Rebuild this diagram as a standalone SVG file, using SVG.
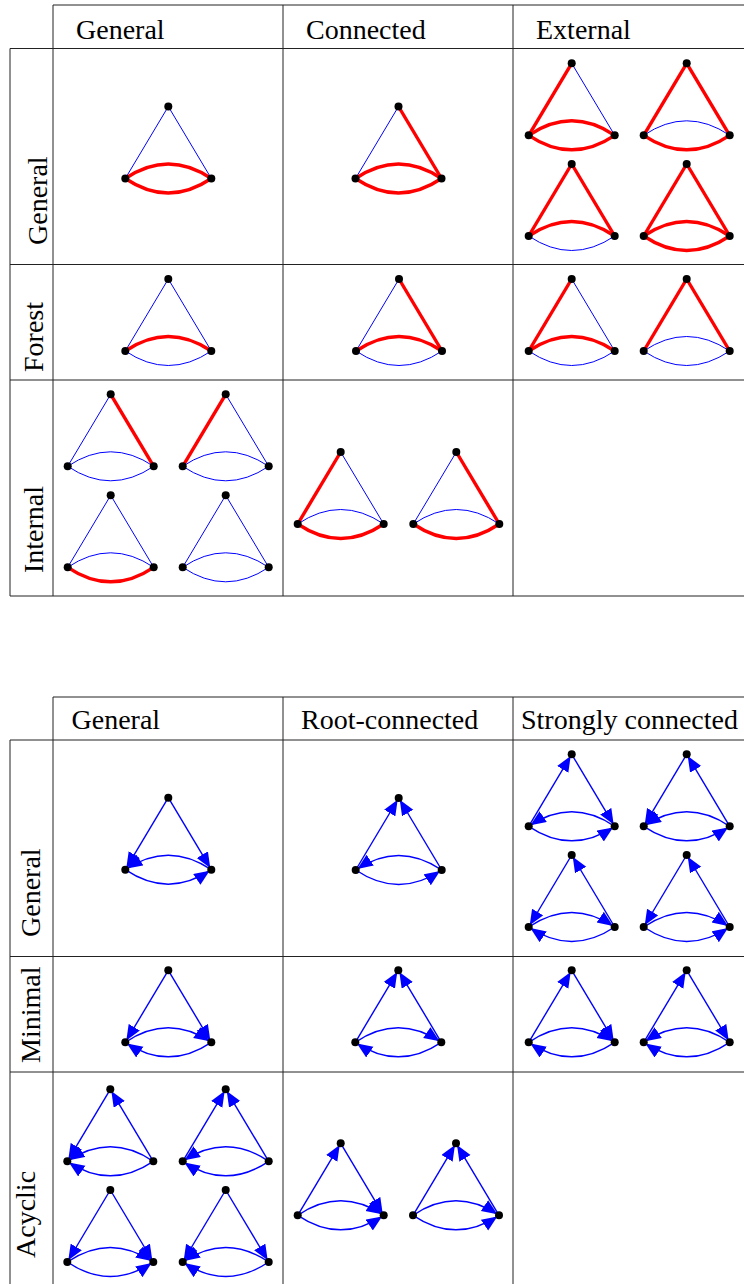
<svg xmlns="http://www.w3.org/2000/svg" xmlns:xlink="http://www.w3.org/1999/xlink" width="744" height="1284" viewBox="0 0 744 1284">
<style>
.grid line{stroke:#222;stroke-width:1}
text{font-family:"Liberation Serif","DejaVu Serif",serif;font-size:28px;fill:#000}
.b{fill:none;stroke:#0000ff;stroke-width:1}
.r{fill:none;stroke:#ff0000;stroke-width:3.4}
.d{fill:none;stroke:#0000ff;stroke-width:1.4;marker-end:url(#ah)}
.n{fill:#000}
</style>
<defs>
<marker id="ah" markerUnits="userSpaceOnUse" markerWidth="20" markerHeight="14" refX="17.5" refY="6.5" orient="auto"><path d="M0,0 L15.5,6.5 L0,13 Z" fill="#0000ff"/></marker>
<path id="LT" d="M-43,72 L0,0"/>
<path id="TL" d="M0,0 L-43,72"/>
<path id="RT" d="M43,72 L0,0"/>
<path id="TR" d="M0,0 L43,72"/>
<path id="uLR" d="M-43,72 Q0,43 43,72"/>
<path id="uRL" d="M43,72 Q0,43 -43,72"/>
<path id="dLR" d="M-43,72 Q0,101 43,72"/>
<path id="dRL" d="M43,72 Q0,101 -43,72"/>
<g id="nd"><circle cx="0" cy="0" r="4"/><circle cx="-43" cy="72" r="4"/><circle cx="43" cy="72" r="4"/></g>
</defs>

<g id="table-undirected" class="grid">
<line x1="53" y1="5" x2="744" y2="5"/>
<line x1="10" y1="48.5" x2="744" y2="48.5"/>
<line x1="10" y1="264.5" x2="744" y2="264.5"/>
<line x1="10" y1="380" x2="744" y2="380"/>
<line x1="10" y1="596" x2="744" y2="596"/>
<line x1="10" y1="48.5" x2="10" y2="596"/>
<line x1="53" y1="5" x2="53" y2="596"/>
<line x1="283" y1="5" x2="283" y2="596"/>
<line x1="513" y1="5" x2="513" y2="596"/>
</g>
<g id="table-directed" class="grid">
<line x1="53" y1="697" x2="744" y2="697"/>
<line x1="10" y1="740" x2="744" y2="740"/>
<line x1="10" y1="956.5" x2="744" y2="956.5"/>
<line x1="10" y1="1072" x2="744" y2="1072"/>
<line x1="10" y1="740" x2="10" y2="1284"/>
<line x1="53" y1="697" x2="53" y2="1284"/>
<line x1="283" y1="697" x2="283" y2="1284"/>
<line x1="513" y1="697" x2="513" y2="1284"/>
</g>

<g id="labels">
<text x="76" y="39">General</text>
<text x="306" y="39">Connected</text>
<text x="536" y="39">External</text>
<text transform="translate(46.5,245) rotate(-90)">General</text>
<text transform="translate(43.3,372) rotate(-90)">Forest</text>
<text transform="translate(43.3,573) rotate(-90)">Internal</text>
<text x="71.5" y="729">General</text>
<text x="301" y="729">Root-connected</text>
<text x="521" y="729">Strongly connected</text>
<text transform="translate(40,937) rotate(-90)">General</text>
<text transform="translate(40,1063) rotate(-90)">Minimal</text>
<text transform="translate(35,1258) rotate(-90)">Acyclic</text>
</g>

<g id="connectors">
<!-- top table -->
<g transform="translate(168.3,106.5)"><use href="#LT" class="b"/><use href="#TR" class="b"/><use href="#uLR" class="r"/><use href="#dLR" class="r"/></g>
<g transform="translate(398.5,106.5)"><use href="#LT" class="b"/><use href="#TR" class="r"/><use href="#uLR" class="r"/><use href="#dLR" class="r"/></g>
<g transform="translate(571.7,63.3)"><use href="#TR" class="b"/><use href="#LT" class="r"/><use href="#uLR" class="r"/><use href="#dLR" class="r"/></g>
<g transform="translate(686.7,63.3)"><use href="#uLR" class="b"/><use href="#LT" class="r"/><use href="#TR" class="r"/><use href="#dLR" class="r"/></g>
<g transform="translate(571.7,164)"><use href="#dLR" class="b"/><use href="#LT" class="r"/><use href="#TR" class="r"/><use href="#uLR" class="r"/></g>
<g transform="translate(686.7,164)"><use href="#LT" class="r"/><use href="#TR" class="r"/><use href="#uLR" class="r"/><use href="#dLR" class="r"/></g>
<g transform="translate(168.3,279)"><use href="#LT" class="b"/><use href="#TR" class="b"/><use href="#dLR" class="b"/><use href="#uLR" class="r"/></g>
<g transform="translate(399,279)"><use href="#LT" class="b"/><use href="#dLR" class="b"/><use href="#TR" class="r"/><use href="#uLR" class="r"/></g>
<g transform="translate(571.7,279)"><use href="#TR" class="b"/><use href="#dLR" class="b"/><use href="#LT" class="r"/><use href="#uLR" class="r"/></g>
<g transform="translate(686.7,279)"><use href="#uLR" class="b"/><use href="#dLR" class="b"/><use href="#LT" class="r"/><use href="#TR" class="r"/></g>
<g transform="translate(110.7,394.3)"><use href="#LT" class="b"/><use href="#uLR" class="b"/><use href="#dLR" class="b"/><use href="#TR" class="r"/></g>
<g transform="translate(225.7,394.3)"><use href="#TR" class="b"/><use href="#uLR" class="b"/><use href="#dLR" class="b"/><use href="#LT" class="r"/></g>
<g transform="translate(110.7,495.3)"><use href="#LT" class="b"/><use href="#TR" class="b"/><use href="#uLR" class="b"/><use href="#dLR" class="r"/></g>
<g transform="translate(225.7,495.3)"><use href="#LT" class="b"/><use href="#TR" class="b"/><use href="#uLR" class="b"/><use href="#dLR" class="b"/></g>
<g transform="translate(340.7,452)"><use href="#TR" class="b"/><use href="#uLR" class="b"/><use href="#LT" class="r"/><use href="#dLR" class="r"/></g>
<g transform="translate(456.3,452)"><use href="#LT" class="b"/><use href="#uLR" class="b"/><use href="#TR" class="r"/><use href="#dLR" class="r"/></g>
<!-- bottom table -->
<g transform="translate(168.3,797.7)"><use href="#TL" class="d"/><use href="#TR" class="d"/><use href="#uRL" class="d"/><use href="#dLR" class="d"/></g>
<g transform="translate(398.7,798)"><use href="#LT" class="d"/><use href="#RT" class="d"/><use href="#uRL" class="d"/><use href="#dLR" class="d"/></g>
<g transform="translate(571.7,754.3)"><use href="#LT" class="d"/><use href="#TR" class="d"/><use href="#uRL" class="d"/><use href="#dLR" class="d"/></g>
<g transform="translate(686.7,754.3)"><use href="#TL" class="d"/><use href="#RT" class="d"/><use href="#uRL" class="d"/><use href="#dLR" class="d"/></g>
<g transform="translate(571.7,855)"><use href="#TL" class="d"/><use href="#RT" class="d"/><use href="#uLR" class="d"/><use href="#dRL" class="d"/></g>
<g transform="translate(686.7,855)"><use href="#TL" class="d"/><use href="#RT" class="d"/><use href="#uLR" class="d"/><use href="#dLR" class="d"/></g>
<g transform="translate(168.3,970.3)"><use href="#TL" class="d"/><use href="#TR" class="d"/><use href="#uLR" class="d"/><use href="#dRL" class="d"/></g>
<g transform="translate(398.3,970.3)"><use href="#LT" class="d"/><use href="#RT" class="d"/><use href="#uLR" class="d"/><use href="#dRL" class="d"/></g>
<g transform="translate(571.7,970.3)"><use href="#LT" class="d"/><use href="#TR" class="d"/><use href="#uLR" class="d"/><use href="#dRL" class="d"/></g>
<g transform="translate(686.7,970.3)"><use href="#LT" class="d"/><use href="#TR" class="d"/><use href="#uRL" class="d"/><use href="#dRL" class="d"/></g>
<g transform="translate(110.3,1089.3)"><use href="#TL" class="d"/><use href="#RT" class="d"/><use href="#uRL" class="d"/><use href="#dRL" class="d"/></g>
<g transform="translate(225.7,1089.3)"><use href="#LT" class="d"/><use href="#RT" class="d"/><use href="#uRL" class="d"/><use href="#dRL" class="d"/></g>
<g transform="translate(110.3,1190)"><use href="#TL" class="d"/><use href="#TR" class="d"/><use href="#uLR" class="d"/><use href="#dLR" class="d"/></g>
<g transform="translate(225.7,1190)"><use href="#TL" class="d"/><use href="#TR" class="d"/><use href="#uRL" class="d"/><use href="#dRL" class="d"/></g>
<g transform="translate(340.7,1143.3)"><use href="#LT" class="d"/><use href="#TR" class="d"/><use href="#uLR" class="d"/><use href="#dLR" class="d"/></g>
<g transform="translate(456,1143.3)"><use href="#LT" class="d"/><use href="#RT" class="d"/><use href="#uLR" class="d"/><use href="#dLR" class="d"/></g>
</g>

<g id="nodes" class="n">
<use id="g-A1" href="#nd" x="168.3" y="106.5"/>
<use id="g-A2" href="#nd" x="398.5" y="106.5"/>
<use id="g-A3a" href="#nd" x="571.7" y="63.3"/>
<use id="g-A3b" href="#nd" x="686.7" y="63.3"/>
<use id="g-A3c" href="#nd" x="571.7" y="164"/>
<use id="g-A3d" href="#nd" x="686.7" y="164"/>
<use id="g-B1" href="#nd" x="168.3" y="279"/>
<use id="g-B2" href="#nd" x="399" y="279"/>
<use id="g-B3a" href="#nd" x="571.7" y="279"/>
<use id="g-B3b" href="#nd" x="686.7" y="279"/>
<use id="g-C1a" href="#nd" x="110.7" y="394.3"/>
<use id="g-C1b" href="#nd" x="225.7" y="394.3"/>
<use id="g-C1c" href="#nd" x="110.7" y="495.3"/>
<use id="g-C1d" href="#nd" x="225.7" y="495.3"/>
<use id="g-C2a" href="#nd" x="340.7" y="452"/>
<use id="g-C2b" href="#nd" x="456.3" y="452"/>
<use id="g-D1" href="#nd" x="168.3" y="797.7"/>
<use id="g-D2" href="#nd" x="398.7" y="798"/>
<use id="g-D3a" href="#nd" x="571.7" y="754.3"/>
<use id="g-D3b" href="#nd" x="686.7" y="754.3"/>
<use id="g-D3c" href="#nd" x="571.7" y="855"/>
<use id="g-D3d" href="#nd" x="686.7" y="855"/>
<use id="g-E1" href="#nd" x="168.3" y="970.3"/>
<use id="g-E2" href="#nd" x="398.3" y="970.3"/>
<use id="g-E3a" href="#nd" x="571.7" y="970.3"/>
<use id="g-E3b" href="#nd" x="686.7" y="970.3"/>
<use id="g-F1a" href="#nd" x="110.3" y="1089.3"/>
<use id="g-F1b" href="#nd" x="225.7" y="1089.3"/>
<use id="g-F1c" href="#nd" x="110.3" y="1190"/>
<use id="g-F1d" href="#nd" x="225.7" y="1190"/>
<use id="g-F2a" href="#nd" x="340.7" y="1143.3"/>
<use id="g-F2b" href="#nd" x="456" y="1143.3"/>
</g>
</svg>
